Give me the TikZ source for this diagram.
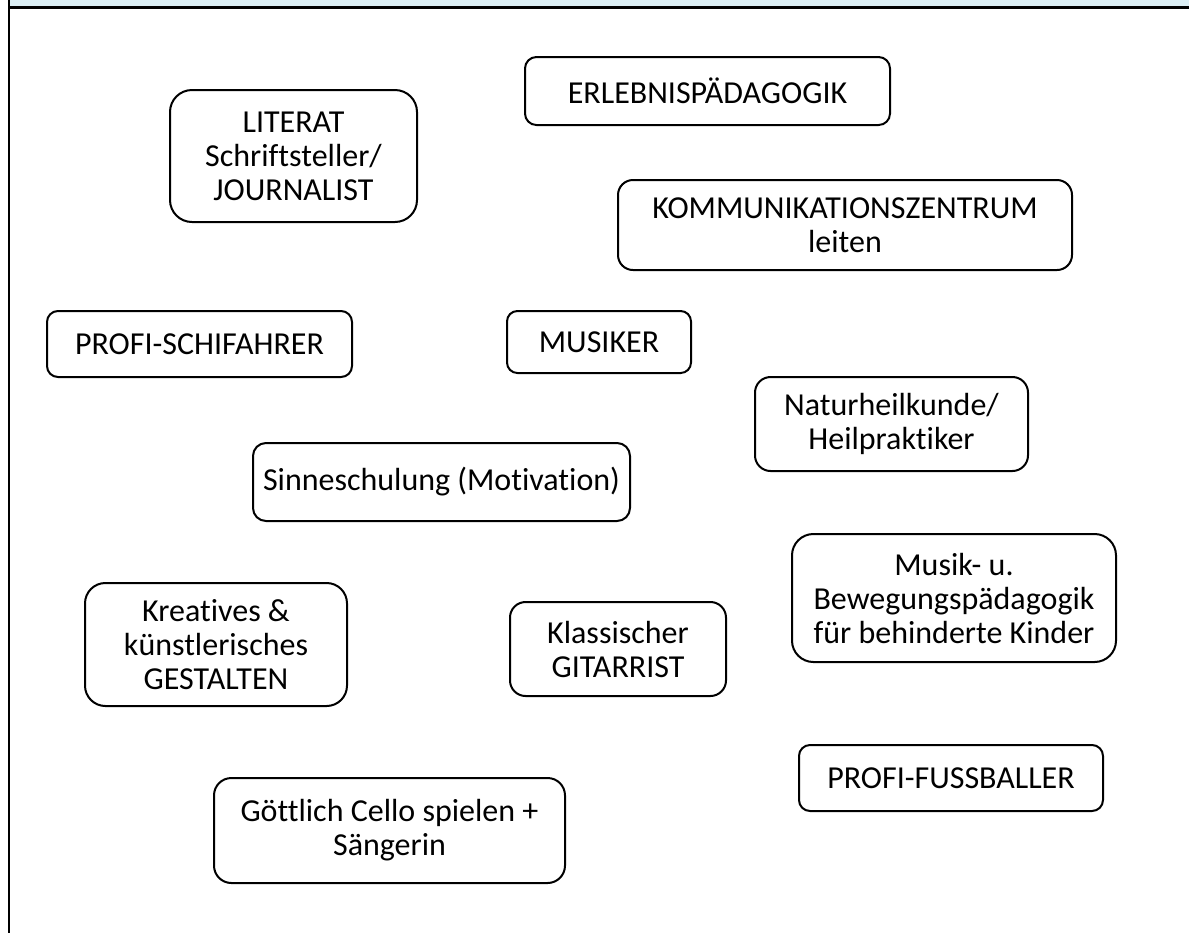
\documentclass[tikz,border=0pt]{standalone}
\usepackage{fontspec}
\setmainfont{Carlito}[Ligatures=NoCommon]
\definecolor{bandblue}{RGB}{219,238,244}
\tikzset{
  card/.style={draw, line width=1pt, rounded corners=#1, align=center,
    inner sep=0pt, font=\fontsize{16}{17}\selectfont},
}
\begin{document}
\begin{tikzpicture}[x=0.5pt,y=-0.5pt]
    \useasboundingbox (0,0) rectangle (1189,933);
    % Frame: shaded band and border lines
    \fill[bandblue] (9,0) rectangle (1189,7);
    \draw[line width=1.2pt] (9,7.5) -- (1189,7.5);
    \draw[line width=1.2pt] (9,0) -- (9,933);

    % Upper part
    \node[card=11pt, minimum width=123.5pt, minimum height=66pt] (literat) at (293.5,156) {LITERAT\\Schriftsteller/\\JOURNALIST};
    \node[card=5.7pt, minimum width=182.5pt, minimum height=34pt] (erlebnis) at (707.5,91) {ERLEBNISPÄDAGOGIK};
    \node[card=7.5pt, minimum width=227pt, minimum height=45pt] (zentrum) at (845,225) {KOMMUNIKATIONSZENTRUM\\leiten};
    \node[card=5.5pt, minimum width=152.5pt, minimum height=33pt] (schifahrer) at (199.5,344) {PROFI-SCHIFAHRER};
    \node[card=5.2pt, minimum width=92pt, minimum height=31pt] (musiker) at (599,342) {MUSIKER};
    \node[card=7.8pt, minimum width=136.5pt, minimum height=47pt] (natur) at (891.5,424) {Naturheilkunde/\\Heilpraktiker};

    % Middle part
    \node[card=6.5pt, minimum width=188.5pt, minimum height=39pt] (sinne) at (441.5,482) {Sinneschulung (Motivation)};
    \node[card=10.7pt, minimum width=162pt, minimum height=64pt] (bewegung) at (954,598) {Musik- u.\\Bewegungspädagogik\\für behinderte Kinder};
    \node[card=10.2pt, minimum width=131pt, minimum height=61.5pt] (gestalten) at (216,644.5) {Kreatives \&\\künstlerisches\\GESTALTEN};
    \node[card=7.8pt, minimum width=108pt, minimum height=47pt] (gitarrist) at (618,649) {Klassischer\\GITARRIST};

    % Lower part
    \node[card=5.5pt, minimum width=152pt, minimum height=33pt] (fussballer) at (951,778) {PROFI-FUSSBALLER};
    \node[card=8.7pt, minimum width=175.5pt, minimum height=52.5pt] (cello) at (389.5,830.5) {Göttlich Cello spielen +\\Sängerin};
\end{tikzpicture}
\end{document}
